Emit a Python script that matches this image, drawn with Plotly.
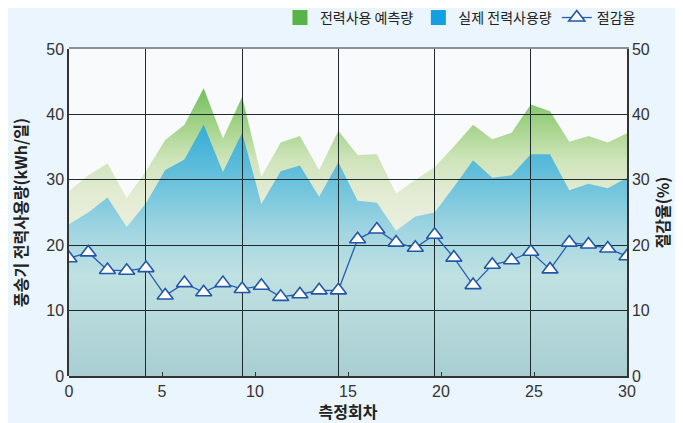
import plotly.graph_objects as go

# measurement number (1..30)
measure_no = list(range(1, 31))
predicted = [28.3, 30.7, 32.5, 27.2, 31.3, 36.1, 38.4, 44.0, 36.3, 42.7,
             30.5, 35.7, 36.7, 31.5, 37.5, 33.8, 33.9, 27.9, 30.0, 31.9,
             35.1, 38.4, 36.2, 37.2, 41.5, 40.5, 35.8, 36.7, 35.7, 37.1]
actual = [23.2, 25.0, 27.3, 22.8, 26.4, 31.5, 33.1, 38.4, 31.2, 37.2,
          26.3, 31.3, 32.2, 27.4, 32.7, 26.8, 26.5, 22.2, 24.4, 25.0,
          28.9, 33.0, 30.3, 30.7, 33.9, 33.9, 28.4, 29.4, 28.7, 30.3]
savings = [18.0, 18.9, 16.2, 16.1, 16.5, 12.3, 14.2, 12.8, 14.2, 13.3,
           13.8, 12.1, 12.5, 13.1, 13.1, 20.9, 22.4, 20.4, 19.6, 21.6,
           18.1, 13.9, 17.0, 17.7, 19.0, 16.3, 20.4, 20.1, 19.5, 18.3]
x_ticks = [0, 5, 10, 15, 20, 25, 30]
y_ticks = [0, 10, 20, 30, 40, 50]
grid_measures = [5, 10, 15, 20, 25]

FONT = "Noto Sans CJK KR"
NUMFONT = "Liberation Sans"

fig = go.Figure()

# legend proxies
fig.add_trace(go.Scatter(x=[None], y=[None], name="전력사용 예측량",
                         mode="markers",
                         marker=dict(symbol="square", size=15, color="#58b446"),
                         xaxis="x", yaxis="y"))
fig.add_trace(go.Scatter(x=[None], y=[None], name="실제 전력사용량",
                         mode="markers",
                         marker=dict(symbol="square", size=15, color="#12a0e2"),
                         xaxis="x", yaxis="y"))

fig.add_trace(go.Scatter(
    x=measure_no, y=predicted, mode="lines", line=dict(width=0),
    fill="tozeroy", showlegend=False, xaxis="x", yaxis="y",
    fillgradient=dict(type="vertical", start=20, stop=45,
                      colorscale=[[0, "#eef1e4"], [0.32, "#e3ebd2"],
                                  [0.52, "#cfe4bb"], [0.72, "#a6d48c"],
                                  [1, "#68bc58"]]),
    hoverinfo="skip"))
fig.add_trace(go.Scatter(
    x=measure_no, y=actual, mode="lines", line=dict(width=0),
    fill="tozeroy", showlegend=False, xaxis="x", yaxis="y",
    fillgradient=dict(type="vertical", start=0, stop=40,
                      colorscale=[[0, "#a8ced2"], [0.2, "#b5d8da"],
                                  [0.38, "#c0e1e2"], [0.55, "#a2d6e1"],
                                  [0.75, "#68c1dc"], [1, "#2ca8d4"]]),
    hoverinfo="skip"))

fig.add_trace(go.Scatter(
    x=measure_no, y=savings, mode="lines+markers", name="절감율",
    xaxis="x2", yaxis="y2",
    line=dict(color="#2a5caa", width=1.3),
    marker=dict(symbol="triangle-up", size=14, color="white",
                line=dict(color="#2157a6", width=1.6))))

# dummy for label axis
fig.add_trace(go.Scatter(x=[None], y=[None], xaxis="x3", yaxis="y2",
                         showlegend=False, hoverinfo="skip"))

fig.update_layout(
    width=675, height=415,
    margin=dict(l=61, r=56, t=41, b=47, autoexpand=False),
    paper_bgcolor="#eaf5fd",
    plot_bgcolor="rgba(0,0,0,0)",
    shapes=[dict(type="rect", xref="paper", yref="paper", x0=0, x1=1,
                 y0=0, y1=1, layer="below", line=dict(width=0),
                 fillcolor="#f8fafc")],
    showlegend=True,
    legend=dict(orientation="h", x=1.025, xanchor="right", y=1.095,
                yanchor="middle", bgcolor="rgba(0,0,0,0)",
                font=dict(family=FONT, size=14, color="#222"),
                traceorder="normal", itemwidth=30),
    xaxis=dict(domain=[0, 1], range=[1, 30], anchor="y", showgrid=False,
               showticklabels=False, ticks="", zeroline=False,
               showline=False, automargin=False),
    yaxis=dict(domain=[0, 1], range=[0, 50], anchor="x", showgrid=False,
               zeroline=False, tickvals=y_ticks, ticks="",
               showline=True, linecolor="#333", linewidth=1.5,
               automargin=False,
               tickfont=dict(family=NUMFONT, size=16, color="#333"),
               title=dict(text="풍송기 전력사용량(kWh/일)", standoff=16,
                          font=dict(family=FONT, size=16, color="#222",
                                    weight="bold"))),
    xaxis2=dict(domain=[0, 1], range=[1, 30], anchor="y2", side="top",
                showgrid=True, gridcolor="#1e2a2c", gridwidth=1.2,
                tickvals=grid_measures, showticklabels=False, ticks="",
                zeroline=False, showline=True, linecolor="#8a8f93",
                linewidth=2, automargin=False),
    yaxis2=dict(domain=[0, 1], range=[0, 50], anchor="x2", side="right",
                showgrid=True, gridcolor="#1e2a2c", gridwidth=1.2,
                tickvals=y_ticks, ticks="", zeroline=False,
                showline=True, linecolor="#333", linewidth=1.5,
                automargin=False,
                tickfont=dict(family=NUMFONT, size=16, color="#333"),
                title=dict(text="절감율(%)", standoff=0,
                           font=dict(family=FONT, size=16, color="#222",
                                     weight="bold"))),
    xaxis3=dict(overlaying="x2", range=[0, 30], anchor="y2", side="bottom",
                tickvals=x_ticks, ticks="inside", ticklen=4,
                tickcolor="#333", showgrid=False, zeroline=False,
                showline=True, linecolor="#333", linewidth=1.5,
                automargin=False,
                tickfont=dict(family=NUMFONT, size=16, color="#333"),
                title=dict(text="측정회차", standoff=2,
                           font=dict(family=FONT, size=16, color="#222",
                                     weight="bold"))),
)

fig.write_html("out.html")
